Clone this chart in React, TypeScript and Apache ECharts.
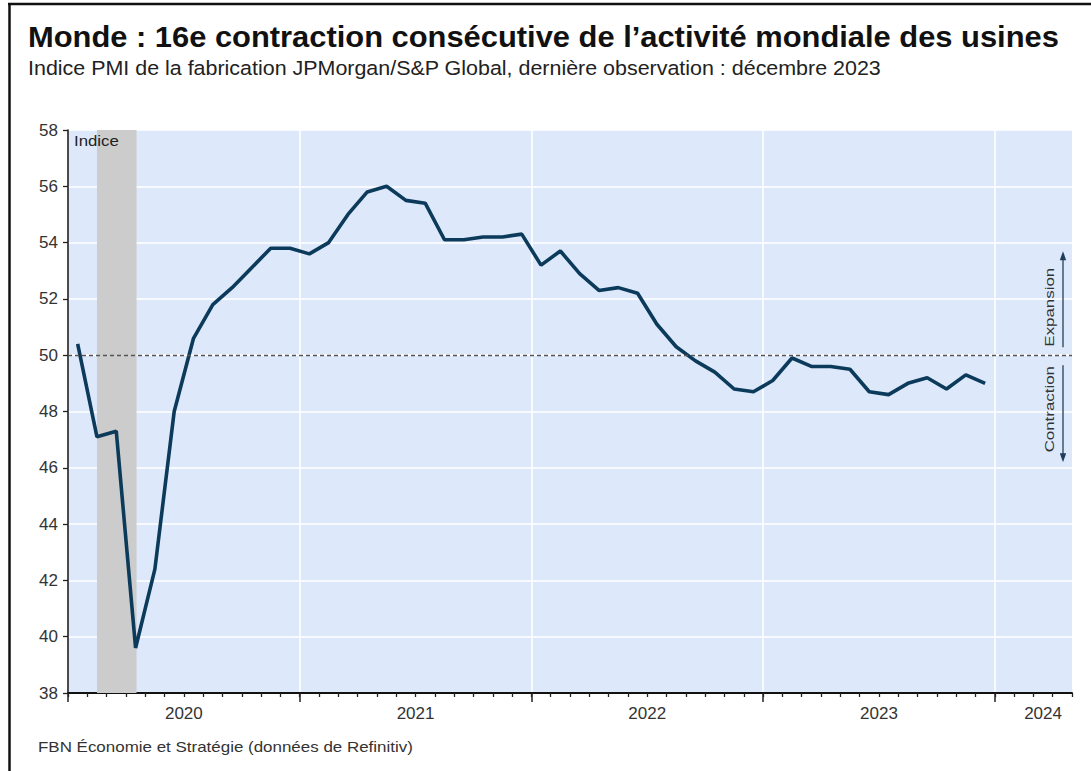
import React, { useEffect, useRef } from "react";
import * as echarts from "echarts";

const TITLE = "Monde : 16e contraction consécutive de l’activité mondiale des usines";
const SUBTITLE = "Indice PMI de la fabrication JPMorgan/S&P Global, dernière observation : décembre 2023";
const SOURCE = "FBN Économie et Stratégie (données de Refinitiv)";
const UNIT = "Indice";
const UP_LABEL = "Expansion";
const DOWN_LABEL = "Contraction";

const yearLabels = ["2020", "2021", "2022", "2023", "2024"];
const monthsOnAxis = 52; // Jan 2020 – Apr 2024

// Monthly PMI, Jan 2020 – Dec 2023
const pmi2020 = [50.4, 47.1, 47.3, 39.6, 42.4, 48.0, 50.6, 51.8, 52.4, 53.1, 53.8, 53.8];
const pmi2021 = [53.6, 54.0, 55.0, 55.8, 56.0, 55.5, 55.4, 54.1, 54.1, 54.2, 54.2, 54.3];
const pmi2022 = [53.2, 53.7, 52.9, 52.3, 52.4, 52.2, 51.1, 50.3, 49.8, 49.4, 48.8, 48.7];
const pmi2023 = [49.1, 49.9, 49.6, 49.6, 49.5, 48.7, 48.6, 49.0, 49.2, 48.8, 49.3, 49.0];

const recessionMonths = [1, 3]; // Feb 2020 – Apr 2020 (month index)
const threshold = 50;
const yMin = 38;
const yMax = 58;
const yStep = 2;

const FONT = "'Liberation Sans', Arial, Helvetica, sans-serif";

export default function App() {
  const ref = useRef<HTMLDivElement>(null);

  useEffect(() => {
    if (!ref.current) return;
    const chart = echarts.init(ref.current, undefined, { renderer: "svg" });
    const values = [...pmi2020, ...pmi2021, ...pmi2022, ...pmi2023];
    const data = values.map((v, i) => [i + 0.5, v]);
    const yearTicks = yearLabels.map((_, k) => k * 12).filter((v) => v <= monthsOnAxis);
    const labelPos = yearLabels.map((_, k) => Math.min(k * 12 + 6, monthsOnAxis - 1.5));
    const monthTicks = Array.from({ length: monthsOnAxis + 1 }, (_, i) => i);

    const baseX = {
      type: "value",
      min: 0,
      max: monthsOnAxis,
      position: "bottom",
      gridIndex: 0,
    };

    chart.setOption({
      animation: false,
      textStyle: { fontFamily: FONT },
      grid: {
        left: 68,
        right: 19,
        top: 130,
        bottom: 78,
        show: true,
        backgroundColor: "#dde9fb",
        borderWidth: 0,
      },
      xAxis: [
        {
          ...baseX,
          axisLine: { show: true, lineStyle: { color: "#111", width: 2 } },
          axisTick: { show: true, customValues: monthTicks, length: 4, lineStyle: { color: "#222", width: 1.3 } },
          axisLabel: { show: false },
          splitLine: { show: false },
        },
        {
          ...baseX,
          interval: 12,
          axisLine: { show: false },
          axisTick: { show: true, customValues: yearTicks, length: 9, lineStyle: { color: "#222", width: 1.5 } },
          axisLabel: { show: false },
          splitLine: { show: true, lineStyle: { color: "#ffffff", width: 1.5 } },
        },
        {
          ...baseX,
          axisLine: { show: false },
          axisTick: { show: false },
          splitLine: { show: false },
          axisLabel: {
            show: true,
            customValues: labelPos,
            formatter: (v: number) => {
              const k = labelPos.findIndex((p) => Math.abs(p - v) < 1e-6);
              return k >= 0 ? yearLabels[k] : "";
            },
            fontSize: 17,
            color: "#333",
            margin: 12,
            fontFamily: FONT,
          },
        },
      ],
      yAxis: {
        type: "value",
        min: yMin,
        max: yMax,
        interval: yStep,
        axisLine: { show: true, lineStyle: { color: "#111", width: 1.5 } },
        axisTick: { show: true, length: 5, lineStyle: { color: "#222", width: 1.3 } },
        axisLabel: { fontSize: 17, color: "#333", margin: 10, fontFamily: FONT },
        splitLine: { show: true, lineStyle: { color: "#ffffff", width: 1.5 } },
      },
      series: [
        {
          type: "line",
          name: "recession",
          data: [],
          z: 1,
          silent: true,
          markArea: {
            silent: true,
            itemStyle: { color: "#cccccc", opacity: 1 },
            data: [[{ xAxis: recessionMonths[0] + 0.5 }, { xAxis: recessionMonths[1] + 0.55 }]],
          },
        },
        {
          type: "line",
          name: "PMI",
          data,
          z: 4,
          symbol: "none",
          lineStyle: { color: "#0c3a5a", width: 3.6 },
          markLine: {
            silent: true,
            symbol: "none",
            label: { show: false },
            lineStyle: { color: "#555", type: [4, 3], width: 1.3 },
            data: [{ yAxis: threshold }],
          },
        },
      ],
    });

    const p = chart.convertToPixel({ xAxisIndex: 0, yAxisIndex: 0 }, [monthsOnAxis, threshold]) as number[];
    const xr = p[0];
    const y50 = p[1];
    const arrowX = xr - 9;
    const textX = xr - 23;
    const ah = 9;
    const txt = (
      text: string,
      x: number,
      y: number,
      size: number,
      scaleX: number,
      extra: Record<string, unknown> = {}
    ) => ({
      type: "text",
      x,
      y,
      z: 100,
      scaleX,
      style: {
        text,
        fontSize: size,
        fontFamily: FONT,
        fill: "#222",
        verticalAlign: "middle",
        ...extra,
      },
    });

    chart.setOption({
      graphic: [
        { type: "line", z: 100, shape: { x1: 8, y1: 4, x2: 1091, y2: 4 }, style: { stroke: "#111", lineWidth: 2.5 } },
        { type: "line", z: 100, shape: { x1: 9.5, y1: 3, x2: 9.5, y2: 771 }, style: { stroke: "#111", lineWidth: 2.5 } },
        txt(TITLE, 28, 37, 29, 1.065, { fontWeight: "bold", fill: "#111" }),
        txt(SUBTITLE, 28, 68, 19.5, 1.1, { fill: "#222" }),
        txt(SOURCE, 38, 747, 15, 1.13, { fill: "#333" }),
        txt(UNIT, 74, 141, 14, 1.2, { fill: "#222" }),
        {
          ...txt(UP_LABEL, textX, y50 - 48, 13, 1.3, { fill: "#333", align: "center" }),
          rotation: Math.PI / 2,
        },
        {
          ...txt(DOWN_LABEL, textX, y50 + 54, 13, 1.3, { fill: "#333", align: "center" }),
          rotation: Math.PI / 2,
        },
        { type: "line", z: 100, shape: { x1: arrowX, y1: y50 - 8, x2: arrowX, y2: y50 - 98 }, style: { stroke: "#3a5670", lineWidth: 1.5 } },
        {
          type: "polygon",
          z: 100,
          shape: { points: [[arrowX, y50 - 104], [arrowX - 3.2, y50 - 104 + ah], [arrowX + 3.2, y50 - 104 + ah]] },
          style: { fill: "#1f3d5e" },
        },
        { type: "line", z: 100, shape: { x1: arrowX, y1: y50 + 10, x2: arrowX, y2: y50 + 100 }, style: { stroke: "#3a5670", lineWidth: 1.5 } },
        {
          type: "polygon",
          z: 100,
          shape: { points: [[arrowX, y50 + 107], [arrowX - 3.2, y50 + 107 - ah], [arrowX + 3.2, y50 + 107 - ah]] },
          style: { fill: "#1f3d5e" },
        },
      ],
    });

    return () => chart.dispose();
  }, []);

  return (
    <div
      ref={ref}
      style={{ position: "absolute", left: 0, top: 0, width: 1091, height: 771, background: "#ffffff" }}
    />
  );
}
